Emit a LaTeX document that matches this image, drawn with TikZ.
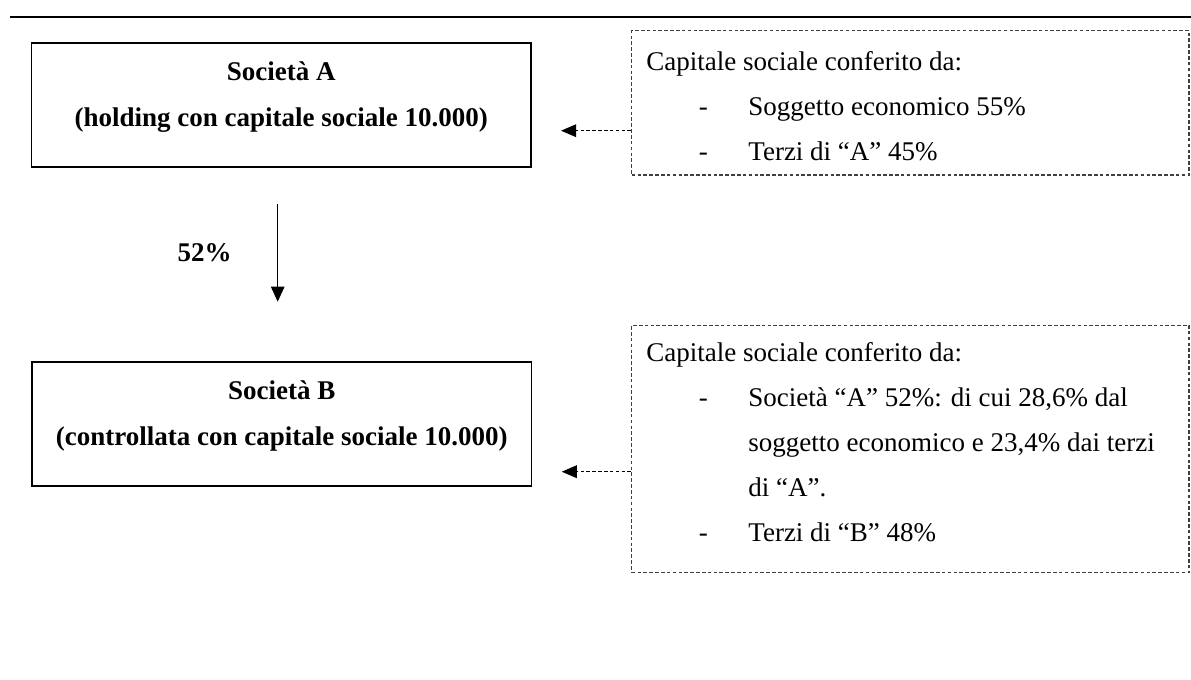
\documentclass[tikz,border=0pt]{standalone}
\usepackage{fontspec}
\setmainfont{Liberation Serif}
\usetikzlibrary{arrows.meta, positioning}

\newcommand{\trattino}{\makebox[45.3pt][l]{\hspace*{23.3pt}-}}
\newcommand{\rientro}{\hspace*{45.3pt}}

\begin{document}
\begin{tikzpicture}[x=0.4444pt, y=-0.4444pt]
\tikzstyle{societa} = [rectangle, draw, line width=0.8pt, minimum width=222pt, minimum height=55.3pt, inner sep=0pt]
\tikzstyle{titolo} = [align=center, font=\fontsize{12}{20.4}\selectfont\bfseries, inner sep=0pt]
\tikzstyle{conferimento} = [rectangle, draw=black!75, line width=0.6pt, dash pattern=on 1.6pt off 1pt, minimum width=247.7pt, inner sep=0pt]
\tikzstyle{elenco} = [align=left, font=\fontsize{12}{20}\selectfont, inner sep=0pt, anchor=north west]
\tikzstyle{apporto} = [draw=black, line width=0.6pt, dash pattern=on 1.6pt off 1pt, -{Triangle[length=6.7pt, width=5.6pt]}]

\useasboundingbox (0,0) rectangle (1191,680);
\draw[line width=0.8pt] (10,17.3) -- (1191,17.3);

% societa A e B
\node (socA) [societa] at (281.3,104.9) {};
\node (socB) [societa] at (281.7,423.9) {};
\node (titA) [titolo] at (281.3,96.7) {Società A\\(holding con capitale sociale 10.000)};
\node (titB) [titolo] at (281.7,415.7) {Società B\\(controllata con capitale sociale 10.000)};

% riquadri tratteggiati
\node (capA) [conferimento, minimum height=64.1pt] at (910.4,102.9) {};
\node (capB) [conferimento, minimum height=110pt] at (910.4,449) {};
\node (elencoA) [elenco] at (646,51) {Capitale sociale conferito da:\\
\trattino Soggetto economico 55\%\\
\trattino Terzi di ``A'' 45\%};
\node (elencoB) [elenco] at (646,342) {Capitale sociale conferito da:\\
\trattino Società ``A'' 52\%: di cui 28,6\% dal\\
\rientro soggetto economico e 23,4\% dai terzi\\
\rientro di ``A''.\\
\trattino Terzi di ``B'' 48\%};

% frecce
\coordinate (puntaA) at (561,130.7);
\coordinate (puntaB) at (561.7,471.7);
\draw[apporto] (capA.west |- puntaA) -- (puntaA);
\draw[apporto] (capB.west |- puntaB) -- (puntaB);

\coordinate (inizio) at (277.7,204);
\coordinate (fine) at (277.7,301.7);
\draw[line width=0.6pt, -{Triangle[length=6.7pt, width=6pt]}] (inizio) -- (fine);
\node (quota) [anchor=base east, font=\fontsize{12}{20}\selectfont\bfseries, inner sep=0pt] at (232,261) {52\%};

\end{tikzpicture}
\end{document}
